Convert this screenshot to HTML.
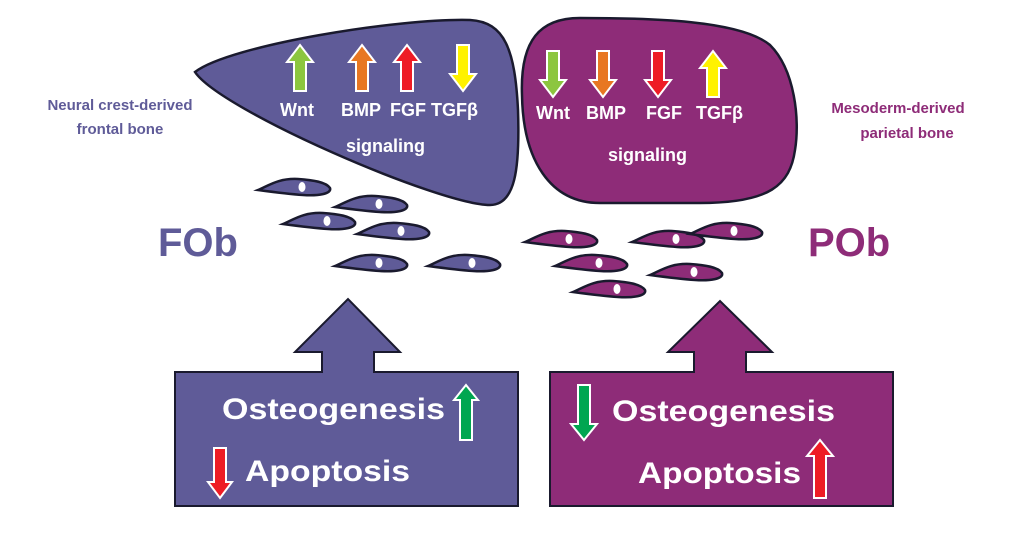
<!DOCTYPE html>
<html><head><meta charset="utf-8"><style>
html,body{margin:0;padding:0;background:#fff;}
svg{display:block;}
text{font-family:"Liberation Sans",Arial,sans-serif;font-weight:bold;}
</style></head><body>
<svg width="1024" height="534" viewBox="0 0 1024 534" xmlns="http://www.w3.org/2000/svg">
<defs>
<path id="cell" d="M0,11 C10,7 20,-1 40,0 C55,1 68,3 72,9 C74,15 60,17 45,16 C30,15 15,13 0,11 Z"/>
<path id="up" d="M0,-23 L13,-6 L6,-6 L6,23 L-6,23 L-6,-6 L-13,-6 Z"/>
<path id="dn" d="M0,23 L13,6 L6,6 L6,-23 L-6,-23 L-6,6 L-13,6 Z"/>
</defs>
<path d="M195,72 C230,45 400,18 470,20 C505,22 515,50 518,110 C520,170 515,205 490,205 C440,205 220,110 195,72 Z" fill="#5f5b98" stroke="#1a1a2e" stroke-width="2.5"/>
<path d="M522,95 C520,40 540,18 580,18 C650,18 740,20 770,45 C795,70 800,120 795,150 C790,185 770,203 700,203 L600,203 C550,203 523,160 522,95 Z" fill="#8e2c78" stroke="#1a1a2e" stroke-width="2.5"/>
<g stroke="#fff" stroke-width="2">
<use href="#up" x="300" y="68" fill="#8cc63f"/>
<use href="#up" x="362" y="68" fill="#e87722"/>
<use href="#up" x="407" y="68" fill="#ee1c25"/>
<use href="#dn" x="463" y="68" fill="#fff200"/>
<use href="#dn" x="553" y="74" fill="#8cc63f"/>
<use href="#dn" x="603" y="74" fill="#e87722"/>
<use href="#dn" x="658" y="74" fill="#ee1c25"/>
<use href="#up" x="713" y="74" fill="#fff200"/>
</g>
<g fill="#fff" font-size="18">
<text x="280" y="116">Wnt</text>
<text x="341" y="116">BMP</text>
<text x="390" y="116">FGF</text>
<text x="431" y="116">TGFβ</text>
<text x="346" y="152">signaling</text>
<text x="536" y="119">Wnt</text>
<text x="586" y="119">BMP</text>
<text x="646" y="119">FGF</text>
<text x="696" y="119">TGFβ</text>
<text x="608" y="161">signaling</text>
</g>
<g fill="#5f5b98" font-size="15">
<text x="120" y="110" text-anchor="middle">Neural crest-derived</text>
<text x="120" y="134" text-anchor="middle">frontal bone</text>
<text x="158" y="256" font-size="40">FOb</text>
</g>
<g fill="#8e2c78" font-size="15">
<text x="898" y="113" text-anchor="middle">Mesoderm-derived</text>
<text x="907" y="138" text-anchor="middle">parietal bone</text>
<text x="808" y="256" font-size="40">POb</text>
</g>
<g fill="#5f5b98" stroke="#1a1a2e" stroke-width="2.5">
<use href="#cell" x="258" y="179"/><use href="#cell" x="335" y="196"/><use href="#cell" x="283" y="213"/>
<use href="#cell" x="357" y="223"/><use href="#cell" x="335" y="255"/><use href="#cell" x="428" y="255"/>
</g>
<g fill="#8e2c78" stroke="#1a1a2e" stroke-width="2.5">
<use href="#cell" x="525" y="231"/><use href="#cell" x="632" y="231"/><use href="#cell" x="690" y="223"/>
<use href="#cell" x="555" y="255"/><use href="#cell" x="650" y="264"/><use href="#cell" x="573" y="281"/>
</g>
<g fill="#fff">
<ellipse cx="302" cy="187" rx="3.5" ry="5"/><ellipse cx="379" cy="204" rx="3.5" ry="5"/><ellipse cx="327" cy="221" rx="3.5" ry="5"/>
<ellipse cx="401" cy="231" rx="3.5" ry="5"/><ellipse cx="379" cy="263" rx="3.5" ry="5"/><ellipse cx="472" cy="263" rx="3.5" ry="5"/>
<ellipse cx="569" cy="239" rx="3.5" ry="5"/><ellipse cx="676" cy="239" rx="3.5" ry="5"/><ellipse cx="734" cy="231" rx="3.5" ry="5"/>
<ellipse cx="599" cy="263" rx="3.5" ry="5"/><ellipse cx="694" cy="272" rx="3.5" ry="5"/><ellipse cx="617" cy="289" rx="3.5" ry="5"/>
</g>
<path d="M175,372 L322,372 L322,352 L295,352 L348,299 L400,352 L374,352 L374,372 L518,372 L518,506 L175,506 Z" fill="#5f5b98" stroke="#1a1a2e" stroke-width="2"/>
<path d="M550,372 L694,372 L694,352 L668,352 L720,301 L772,352 L746,352 L746,372 L893,372 L893,506 L550,506 Z" fill="#8e2c78" stroke="#1a1a2e" stroke-width="2"/>
<g fill="#fff" font-size="30">
<text x="222" y="419" textLength="223" lengthAdjust="spacingAndGlyphs">Osteogenesis</text>
<text x="245" y="481" textLength="165" lengthAdjust="spacingAndGlyphs">Apoptosis</text>
<text x="612" y="421" textLength="223" lengthAdjust="spacingAndGlyphs">Osteogenesis</text>
<text x="638" y="483" textLength="163" lengthAdjust="spacingAndGlyphs">Apoptosis</text>
</g>
<g stroke="#fff" stroke-width="2">
<path d="M466,385 L478,400 L472,400 L472,440 L460,440 L460,400 L454,400 Z" fill="#00a651"/>
<path d="M220,498 L232,482 L226,482 L226,448 L214,448 L214,482 L208,482 Z" fill="#ee1c25"/>
<path d="M584,440 L597,424 L590,424 L590,385 L578,385 L578,424 L571,424 Z" fill="#00a651"/>
<path d="M820,440 L833,456 L826,456 L826,498 L814,498 L814,456 L807,456 Z" fill="#ee1c25"/>
</g>
</svg>
</body></html>
